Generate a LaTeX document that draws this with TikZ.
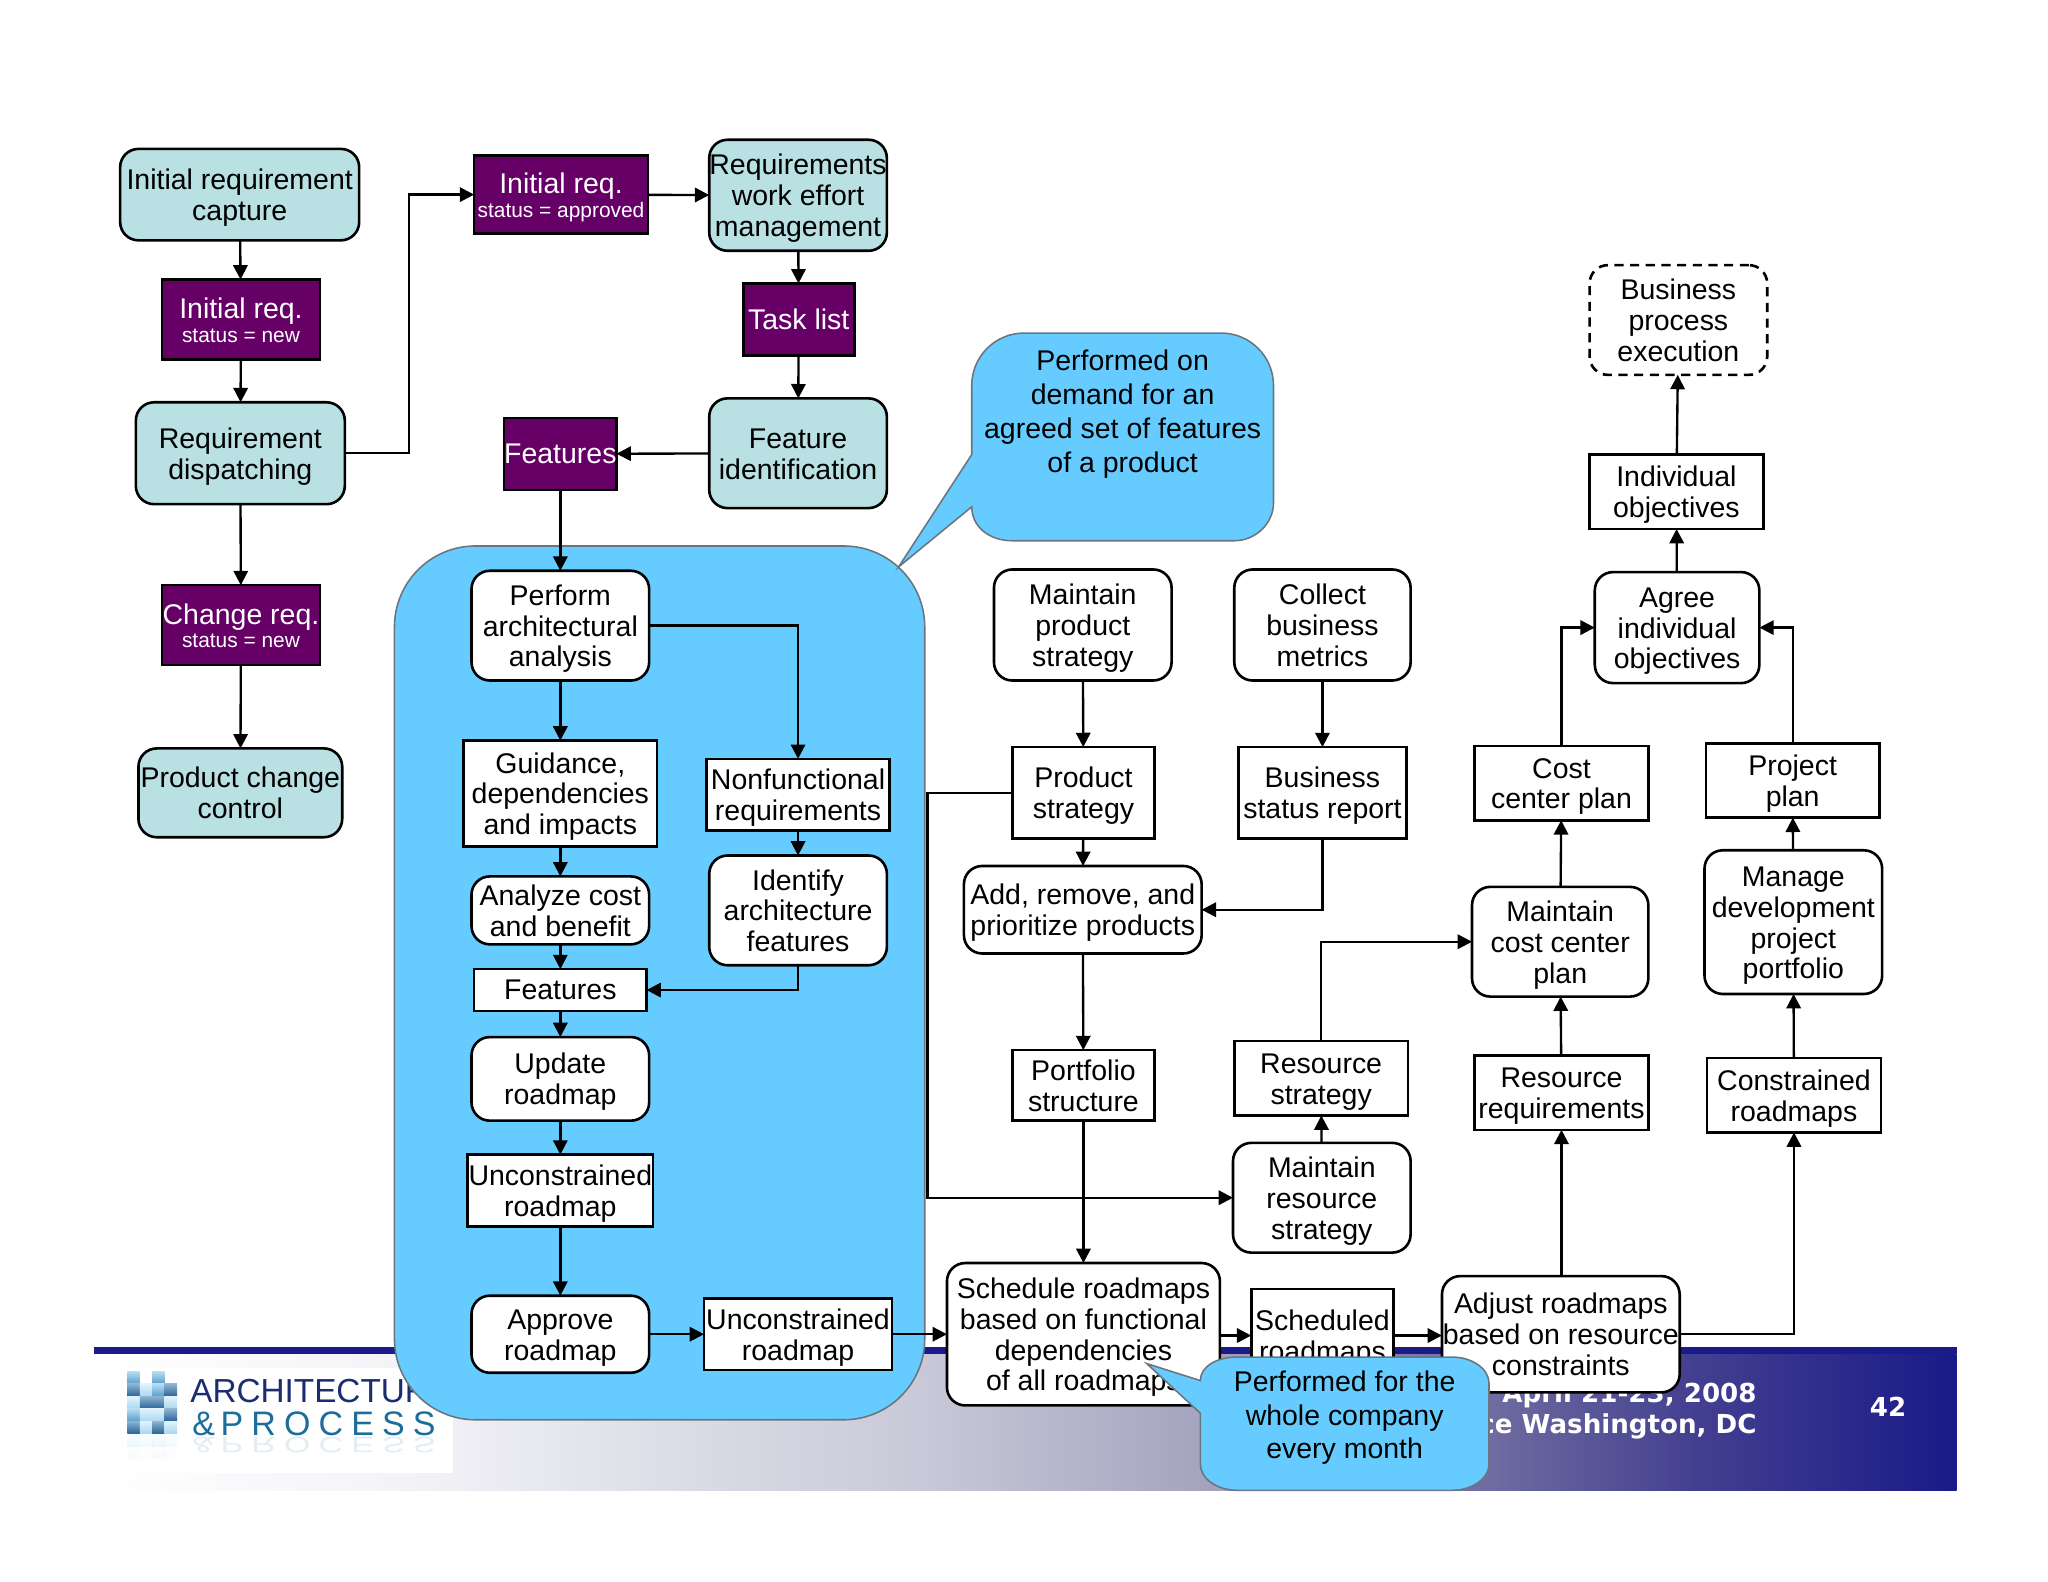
\documentclass[tikz,border=0pt]{standalone}
\usepackage{fontspec}
\setmainfont{Liberation Sans}
\newfontfamily\footfont{DejaVu Sans}
\usetikzlibrary{arrows.meta}
\definecolor{tealbox}{HTML}{B9E0E3}
\definecolor{purplebox}{HTML}{660066}
\definecolor{skyblue}{HTML}{66CCFF}
\definecolor{calloutedge}{HTML}{6A7580}
\definecolor{footnavy}{HTML}{1A1A88}
\definecolor{fa}{HTML}{F4F4F8}
\definecolor{fb}{HTML}{C8C8D8}
\definecolor{fc}{HTML}{A4A4BF}
\definecolor{fd}{HTML}{6E6CA0}
\definecolor{fe}{HTML}{433F90}
\definecolor{logonavy}{HTML}{1C2C70}
\definecolor{logoteal}{HTML}{1B6E9A}
\definecolor{darktop}{HTML}{8FB4CF}
\definecolor{darkbot}{HTML}{2A6499}
\definecolor{midtop}{HTML}{B5DDF3}
\definecolor{midbot}{HTML}{5A9FCC}
\definecolor{paletop}{HTML}{E2F3FC}
\definecolor{palebot}{HTML}{A8D8F2}
\pgfdeclarehorizontalshading{footgrad}{100bp}{color(0bp)=(white); color(25bp)=(white); color(33bp)=(fa); color(47.3bp)=(fb); color(54.75bp)=(fc); color(62.45bp)=(fd); color(68bp)=(fe); color(75bp)=(footnavy); color(100bp)=(footnavy)}
\newcommand{\mytop}{\rule{0pt}{21pt}}
\newcommand{\mybot}{\rule[-5pt]{0pt}{5pt}}
\newcommand{\bxs}[7]{%
  \pgfmathsetmacro{\bw}{#5-#3}\pgfmathsetmacro{\bh}{#6-#4}%
  \pgfmathsetmacro{\cxx}{(#3+#5)/2}\pgfmathsetmacro{\cyy}{(#4+#6)/2}%
  \node[#2,minimum width=\bw pt,minimum height=\bh pt] (#1) at (\cxx,\cyy) {#7};}
\newcommand{\bx}[7]{\bxs{#1}{#2}{#3}{#4}{#5}{#6}{\mytop #7\mybot}}
\newcommand{\smalltxt}[1]{{\fontsize{16}{17}\selectfont #1\rule[-3.5pt]{0pt}{3.5pt}}}
\newcommand{\purptop}{\rule{0pt}{20.5pt}}
\newcommand{\cellshade}[4]{\shade[top color=#3top,bottom color=#3bot,opacity=#4] (#1,#2) rectangle ++(9.6,9.5);}
\tikzset{
  base/.style={draw=black,line width=2pt,inner sep=0pt,outer sep=0pt,align=center,font=\fontsize{21.8}{23.6}\selectfont},
  teal/.style={base,fill=tealbox,rounded corners=14pt},
  purp/.style={base,fill=purplebox,text=white},
  wround/.style={base,fill=white,rounded corners=14pt},
  wsq/.style={base,fill=white},
  dround/.style={base,fill=white,rounded corners=14pt,dash pattern=on 7pt off 5pt},
  arr/.style={draw=black,line width=1.8pt,-{Triangle[length=11pt,width=11pt]}},
  callout/.style={draw=calloutedge,line width=1.2pt,fill=skyblue},
  calltxt/.style={inner sep=0pt,align=center,font=\fontsize{21.8}{26}\selectfont},
  foottxt/.style={inner sep=0pt,text=white,font=\footfont\bfseries\fontsize{20}{24}\selectfont,anchor=east}
}
\begin{document}
\begin{tikzpicture}[x=1pt,y=-1pt]
\useasboundingbox (0,0) rectangle (1568,1211);
% footer
\fill[footnavy] (72,1031) rectangle (1498,1037);
\shade[shading=footgrad] (72,1037) rectangle (1498,1141);
\fill[white] (96,1047) rectangle (347,1128);
% logo mosaic
\foreach \px/\py/\cc in {
 97.5/1050/mid,116.5/1050/mid,
 97.5/1059.5/dark,107/1059.5/pale,116.5/1059.5/mid,126/1059.5/dark,
 97.5/1069/pale,107/1069/dark,116.5/1069/dark,126/1069/pale,
 97.5/1078.5/mid,107/1078.5/pale,116.5/1078.5/pale,126/1078.5/dark,
 97.5/1088/dark,107/1088/pale,116.5/1088/dark,126/1088/pale}
 {\cellshade{\px}{\py}{\cc}{1}}
\foreach \px/\ww in {97.5/.22,107/.12,116.5/.22,126/.12}
 {\cellshade{\px}{1098}{pale}{\ww}\cellshade{\px}{1107.5}{pale}{.4*\ww}}
\node[anchor=base west,inner sep=0pt,text=logonavy,font=\fontsize{25.5}{25}\selectfont] (logoa) at (145.5,1074) {ARCHITECTURE};
\node[anchor=base west,inner sep=0pt,text=logoteal,font=\addfontfeature{LetterSpace=24}\fontsize{26}{26}\selectfont] (logob) at (147,1099) {\&\,PROCESS};
\begin{scope}[shift={(147,1100.5)},yscale=-0.65]
\node[anchor=base west,inner sep=0pt,transform shape,text=logoteal,opacity=.12,font=\addfontfeature{LetterSpace=24}\fontsize{26}{26}\selectfont] (logoc) at (0,0) {\&\,PROCESS};
\end{scope}
% footer texts
\node[foottxt] (ftdate) at (1345,1068) {April 21-23, 2008};
\node[foottxt] (ftplace) at (1345,1092) {ce Washington, DC};
\node[foottxt,anchor=center] (ftnum) at (1445.5,1077) {42};
% big group
\path[fill=skyblue,draw=calloutedge,line width=1.2pt,rounded corners=62pt] (302,418) rectangle (708,1087);
% teal
\bx{cap}{teal}{92}{114}{275}{184}{Initial requirement\\capture}
\bx{reqdisp}{teal}{104}{308}{264}{386}{Requirement\\dispatching}
\bx{pcc}{teal}{106}{573}{262}{641}{Product change\\control}
\bx{rwe}{teal}{543}{107}{679}{192}{Requirements\\work effort\\management}
\bx{fid}{teal}{543}{305}{679}{389}{Feature\\identification}
% purple
\bxs{irone}{purp}{124}{214}{245}{275}{\purptop Initial req.\\[-5.6pt]\smalltxt{status = new}}
\bxs{crq}{purp}{124}{448}{245}{509}{\purptop Change req.\\[-5.6pt]\smalltxt{status = new}}
\bxs{irtwo}{purp}{363}{119}{496}{179}{\purptop Initial req.\\[-5.6pt]\smalltxt{status = approved}}
\bxs{tl}{purp}{569}{217}{654}{272}{Task list}
\bxs{feat}{purp}{387}{320}{471}{375}{Features}
% white rounded
\bx{paa}{wround}{361}{437}{497}{521}{Perform\\architectural\\analysis}
\bx{acb}{wround}{361}{671}{497}{723}{Analyze cost\\and benefit}
\bx{iaf}{wround}{543}{655}{679}{739}{Identify\\architecture\\features}
\bx{ur}{wround}{361}{794}{497}{858}{Update\\roadmap}
\bx{ar}{wround}{361}{992}{497}{1051}{Approve\\roadmap}
\bx{mps}{wround}{761}{436}{897}{521}{Maintain\\product\\strategy}
\bx{cbm}{wround}{945}{436}{1080}{521}{Collect\\business\\metrics}
\bx{arp}{wround}{738}{663}{920}{730}{Add, remove, and\\prioritize products}
\bx{mrs}{wround}{944}{875}{1080}{959}{Maintain\\resource\\strategy}
\bx{mcc}{wround}{1127}{679}{1262}{763}{Maintain\\cost center\\plan}
\bx{aio}{wround}{1221}{438}{1347}{523}{Agree\\individual\\objectives}
\bx{mdp}{wround}{1305}{651}{1441}{761}{Manage\\development\\project\\portfolio}
\bx{srm}{wround}{725}{967}{934}{1076}{Schedule roadmaps\\based on functional\\dependencies\\of all roadmaps}
% white square
\bx{gdi}{wsq}{355}{567}{503}{648}{Guidance,\\dependencies\\and impacts}
\bx{nfr}{wsq}{541}{581}{681}{636}{Nonfunctional\\requirements}
\bxs{ftwo}{wsq}{363}{742}{495}{774}{Features}
\bx{ucr}{wsq}{358}{884}{500}{939}{Unconstrained\\roadmap}
\bx{ucrb}{wsq}{539}{994}{683}{1049}{Unconstrained\\roadmap}
\bx{ps}{wsq}{775}{572}{884}{642}{Product\\strategy}
\bx{bsr}{wsq}{948}{572}{1077}{642}{Business\\status report}
\bx{pfs}{wsq}{775}{804}{884}{858}{Portfolio\\structure}
\bx{rs}{wsq}{945}{797}{1078}{854}{Resource\\strategy}
\bx{rr}{wsq}{1129}{808}{1262}{865}{Resource\\requirements}
\bx{crm}{wsq}{1307}{810}{1440}{867}{Constrained\\roadmaps}
\bx{ccp}{wsq}{1129}{571}{1262}{628}{Cost\\center plan}
\bx{pp}{wsq}{1306}{569}{1439}{626}{Project\\plan}
\bx{io}{wsq}{1217}{348}{1350}{405}{Individual\\objectives}
\bx{sr}{wsq}{958}{987}{1067}{1058}{Scheduled\\roadmaps}
\bx{arm}{wround}{1104}{977}{1286}{1066}{Adjust roadmaps\\based on resource\\constraints}
\bx{bpe}{dround}{1217}{203}{1353}{287}{Business\\process\\execution}
% connectors
\coordinate (bendone) at (313,250);
\coordinate (bendtwo) at (710,760);
\draw[arr] (cap) -- (irone);
\draw[arr] (irone) -- (reqdisp);
\draw[arr] (reqdisp) -- (crq);
\draw[arr] (crq) -- (pcc);
\draw[arr] (reqdisp.east) -| (bendone) |- (irtwo.west);
\draw[arr] (irtwo) -- (rwe);
\draw[arr] (rwe) -- (tl);
\draw[arr] (tl) -- (fid);
\draw[arr] (fid) -- (feat);
\draw[arr] (feat) -- (paa);
\draw[arr] (paa) -- (gdi);
\draw[arr] (paa.east) -| (nfr.north);
\draw[arr] (nfr) -- (iaf);
\draw[arr] (gdi) -- (acb);
\draw[arr] (acb) -- (ftwo);
\draw[arr] (iaf.south) |- (ftwo.east);
\draw[arr] (ftwo) -- (ur);
\draw[arr] (ur) -- (ucr);
\draw[arr] (ucr) -- (ar);
\draw[arr] (ar) -- (ucrb);
\draw[arr] (ucrb) -- (srm);
\draw[arr] (mps) -- (ps);
\draw[arr] (cbm) -- (bsr);
\draw[arr] (ps) -- (arp);
\draw[arr] (bsr.south) |- (arp.east);
\draw[arr] (arp) -- (pfs);
\draw[arr] (pfs) -- (srm);
\draw[arr] (ps.west) -| (bendtwo) |- (mrs.west);
\draw[arr] (mrs) -- (rs);
\draw[arr] (rs.north) |- (mcc.west);
\draw[arr] (rr) -- (mcc);
\draw[arr] (mcc) -- (ccp);
\draw[arr] (ccp.north) |- (aio.west);
\draw[arr] (pp.north) |- (aio.east);
\draw[arr] (aio) -- (io);
\draw[arr] (io) -- (bpe);
\draw[arr] (mdp) -- (pp);
\draw[arr] (crm) -- (mdp);
\draw[arr] (srm.east|-sr.west) -- (sr.west);
\draw[arr] (sr.east) -- (arm.west|-sr.east);
\draw[arr] (arm.north-|rr.south) -- (rr.south);
\draw[arr] (arm.east) -| (crm.south);
% callouts
\draw[callout] (744,348) -- (744,295) .. controls (744,273) and (762,255) .. (784,255) -- (935,255) .. controls (957,255) and (975,273) .. (975,295) -- (975,385) .. controls (975,401) and (961,414) .. (945,414) -- (775,414) .. controls (757,414) and (744,403) .. (744,388) -- (688,434) -- cycle;
\node[calltxt] (callonetext) at (859.5,315) {\mytop Performed on\\demand for an\\agreed set of features\\of a product\mybot};
\draw[callout] (919,1057) .. controls (919,1046) and (932,1039) .. (947,1039) -- (1112,1039) .. controls (1127,1039) and (1140,1048) .. (1140,1059) -- (1140,1121) .. controls (1140,1132) and (1127,1141) .. (1112,1141) -- (947,1141) .. controls (932,1141) and (919,1132) .. (919,1121) -- (919,1082) -- (878,1044) -- cycle;
\node[calltxt] (calltwotext) at (1029.5,1083) {\mytop Performed for the\\whole company\\every month\mybot};
\end{tikzpicture}
\end{document}
